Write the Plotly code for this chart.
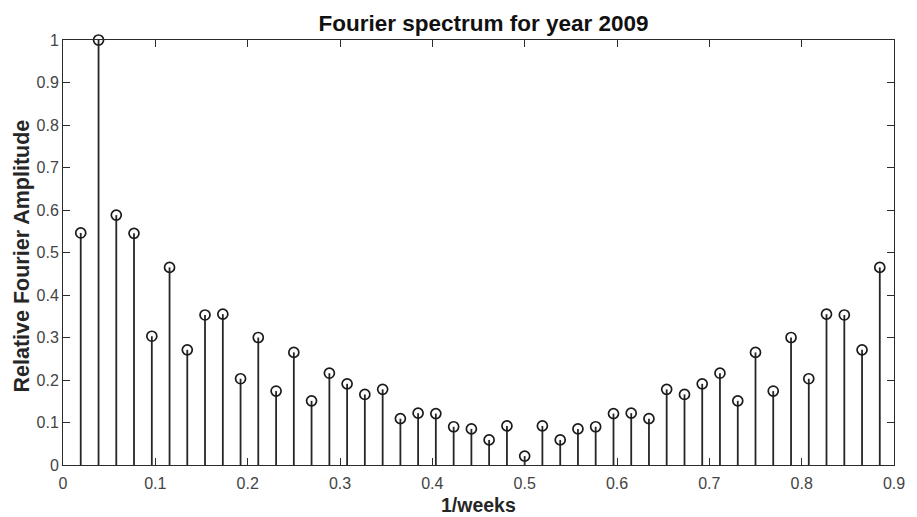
import plotly.graph_objects as go

# Frequencies (1/weeks) and relative Fourier amplitudes
freq = [0.0192, 0.0385, 0.0577, 0.0769, 0.0962, 0.1154, 0.1346, 0.1538, 0.1731, 0.1923,
        0.2115, 0.2308, 0.2500, 0.2692, 0.2885, 0.3077, 0.3269, 0.3462, 0.3654, 0.3846,
        0.4038, 0.4231, 0.4423, 0.4615, 0.4808, 0.5000, 0.5192, 0.5385, 0.5577, 0.5769,
        0.5962, 0.6154, 0.6346, 0.6538, 0.6731, 0.6923, 0.7115, 0.7308, 0.7500, 0.7692,
        0.7885, 0.8077, 0.8269, 0.8462, 0.8654, 0.8846]
amplitude = [0.546, 1.000, 0.588, 0.545, 0.303, 0.465, 0.271, 0.353, 0.355, 0.203,
             0.300, 0.174, 0.265, 0.151, 0.216, 0.191, 0.166, 0.178, 0.109, 0.122,
             0.121, 0.090, 0.085, 0.059, 0.092, 0.021, 0.092, 0.059, 0.085, 0.090,
             0.121, 0.122, 0.109, 0.178, 0.166, 0.191, 0.216, 0.151, 0.265, 0.174,
             0.300, 0.203, 0.355, 0.353, 0.271, 0.465]

x_ticks = [0, 0.1, 0.2, 0.3, 0.4, 0.5, 0.6, 0.7, 0.8, 0.9]
x_labels = ["0", "0.1", "0.2", "0.3", "0.4", "0.5", "0.6", "0.7", "0.8", "0.9"]
y_ticks = [0, 0.1, 0.2, 0.3, 0.4, 0.5, 0.6, 0.7, 0.8, 0.9, 1]
y_labels = ["0", "0.1", "0.2", "0.3", "0.4", "0.5", "0.6", "0.7", "0.8", "0.9", "1"]

title_text = "Fourier spectrum for year 2009"
x_title = "1/weeks"
y_title = "Relative Fourier Amplitude"

# Build stem segments from the data
stem_x, stem_y = [], []
for f, a in zip(freq, amplitude):
    stem_x += [f, f, None]
    stem_y += [0, a, None]

FONT = "Liberation Sans, Arial, sans-serif"
AX = "#2b2b2b"

fig = go.Figure()
fig.add_trace(go.Scatter(x=stem_x, y=stem_y, mode="lines",
                         line=dict(color="#262626", width=1.8),
                         hoverinfo="skip", showlegend=False, cliponaxis=False))
fig.add_trace(go.Scatter(x=freq, y=amplitude, mode="markers",
                         marker=dict(symbol="circle-open", size=10, color="#1a1a1a",
                                     line=dict(width=1.7, color="#1a1a1a")),
                         showlegend=False, cliponaxis=False))

axis_common = dict(showgrid=False, zeroline=False, showline=True, linecolor=AX,
                   linewidth=1, ticks="inside", ticklen=7, tickwidth=1, tickcolor=AX,
                   mirror="ticks", tickfont=dict(family=FONT, size=16, color="#444444"))

fig.update_xaxes(range=[0, 0.9], tickvals=x_ticks, ticktext=x_labels,
                 ticklabelstandoff=4, **axis_common)
fig.update_yaxes(range=[0, 1], tickvals=y_ticks, ticktext=y_labels, **axis_common)

fig.update_layout(
    width=917, height=517,
    margin=dict(l=63, r=13, t=40, b=52),
    plot_bgcolor="white", paper_bgcolor="white",
    title=dict(text="<b>" + title_text + "</b>", x=0.5 * (63 + 904) / 917, xanchor="center",
               y=1 - 23 / 517, yanchor="middle", yref="container",
               font=dict(family=FONT, size=22.5, color="#111111")),
    annotations=[
        dict(text="<b>" + x_title + "</b>", xref="paper", yref="paper",
             x=0.5, y=(465 - 505) / 425, xanchor="center", yanchor="middle",
             showarrow=False, font=dict(family=FONT, size=19.5, color="#262626")),
        dict(text="<b>" + y_title + "</b>", xref="paper", yref="paper",
             x=(22 - 63) / 841, y=(465 - 256) / 425, xanchor="center", yanchor="middle",
             textangle=-90, showarrow=False,
             font=dict(family=FONT, size=21.5, color="#262626")),
    ],
)

fig.write_html("out.html", config={"displayModeBar": False},
               post_script="document.body.style.margin='0';document.body.style.overflow='hidden';")
